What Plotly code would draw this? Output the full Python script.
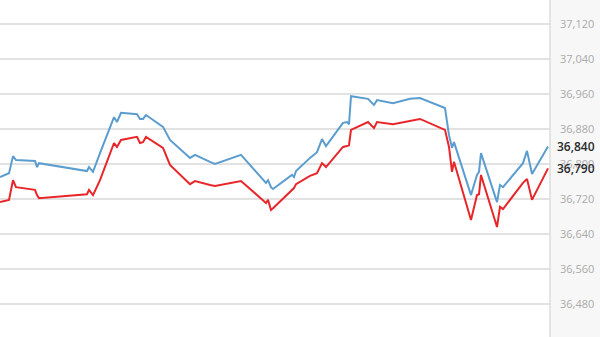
import plotly.graph_objects as go

# x positions (time steps)
t = [0, 9, 13, 16, 35, 37, 39, 87, 89, 93, 100, 114, 117, 121, 137, 140, 143, 146, 163, 170,
     190, 195, 210, 215, 241, 266, 268, 271, 273, 292, 294, 296, 310, 317, 322, 326, 343, 347,
     349, 351, 368, 374, 377, 393, 410, 420, 445, 449, 452, 454, 471, 477, 479, 481, 497, 500,
     503, 523, 527, 532, 548]

blue = [36770, 36779, 36818, 36809, 36807, 36793, 36802, 36784, 36793, 36782, 36825, 36907,
        36896, 36917, 36914, 36903, 36903, 36912, 36885, 36855, 36814, 36821, 36805, 36800,
        36821, 36757, 36763, 36747, 36743, 36775, 36770, 36784, 36814, 36827, 36857, 36841,
        36894, 36896, 36891, 36955, 36949, 36935, 36946, 36939, 36949, 36951, 36928, 36866,
        36837, 36850, 36729, 36775, 36782, 36825, 36713, 36752, 36747, 36802, 36830, 36777,
        36840]

red = [36713, 36718, 36763, 36747, 36741, 36729, 36722, 36731, 36741, 36729, 36763, 36848,
       36839, 36855, 36862, 36848, 36850, 36862, 36837, 36798, 36754, 36761, 36752, 36750,
       36761, 36711, 36718, 36695, 36699, 36741, 36745, 36754, 36773, 36779, 36802, 36793,
       36839, 36841, 36843, 36878, 36896, 36882, 36896, 36891, 36898, 36903, 36878, 36839,
       36782, 36805, 36672, 36729, 36731, 36775, 36656, 36702, 36697, 36757, 36766, 36718,
       36790]

tick_vals = [36400, 36480, 36560, 36640, 36720, 36800, 36880, 36960, 37040, 37120, 37200]
tick_text = [f"{v:,}" for v in tick_vals]

fig = go.Figure()
fig.add_trace(go.Scatter(x=t, y=blue, mode="lines", line=dict(color="#5b9dcf", width=2),
                         showlegend=False, hoverinfo="skip"))
fig.add_trace(go.Scatter(x=t, y=red, mode="lines", line=dict(color="#e8262a", width=2),
                         showlegend=False, hoverinfo="skip"))

# right axis panel
fig.add_shape(type="rect", xref="paper", yref="paper", x0=1, x1=1.1, y0=0, y1=1,
              fillcolor="#f7f7f7", line=dict(width=0), layer="below")
fig.add_shape(type="line", xref="paper", yref="paper", x0=1, x1=1, y0=0, y1=1,
              line=dict(color="#dcdcdc", width=1.5))

for val in [blue[-1], red[-1]]:
    fig.add_annotation(x=1, xref="paper", y=val, yref="y", text=f"{val:,}",
                       showarrow=False, xanchor="left", xshift=5,
                       font=dict(family="Open Sans, Arial", size=12, color="#2a2a2a",
                                 weight=600))

fig.update_layout(
    width=600, height=337,
    margin=dict(l=0, r=50, t=0, b=0),
    paper_bgcolor="white", plot_bgcolor="white",
    xaxis=dict(range=[0, 550], visible=False, fixedrange=True),
    yaxis=dict(range=[36404.6, 37174.9], side="right", tickvals=tick_vals, ticktext=tick_text,
               showgrid=True, gridcolor="#e2e2e2", gridwidth=1.5, zeroline=False,
               showline=False, ticks="", ticklabelstandoff=9,
               tickfont=dict(family="Open Sans, Arial", size=11, color="#aaaaaa")),
)

fig.write_html("out.html")
